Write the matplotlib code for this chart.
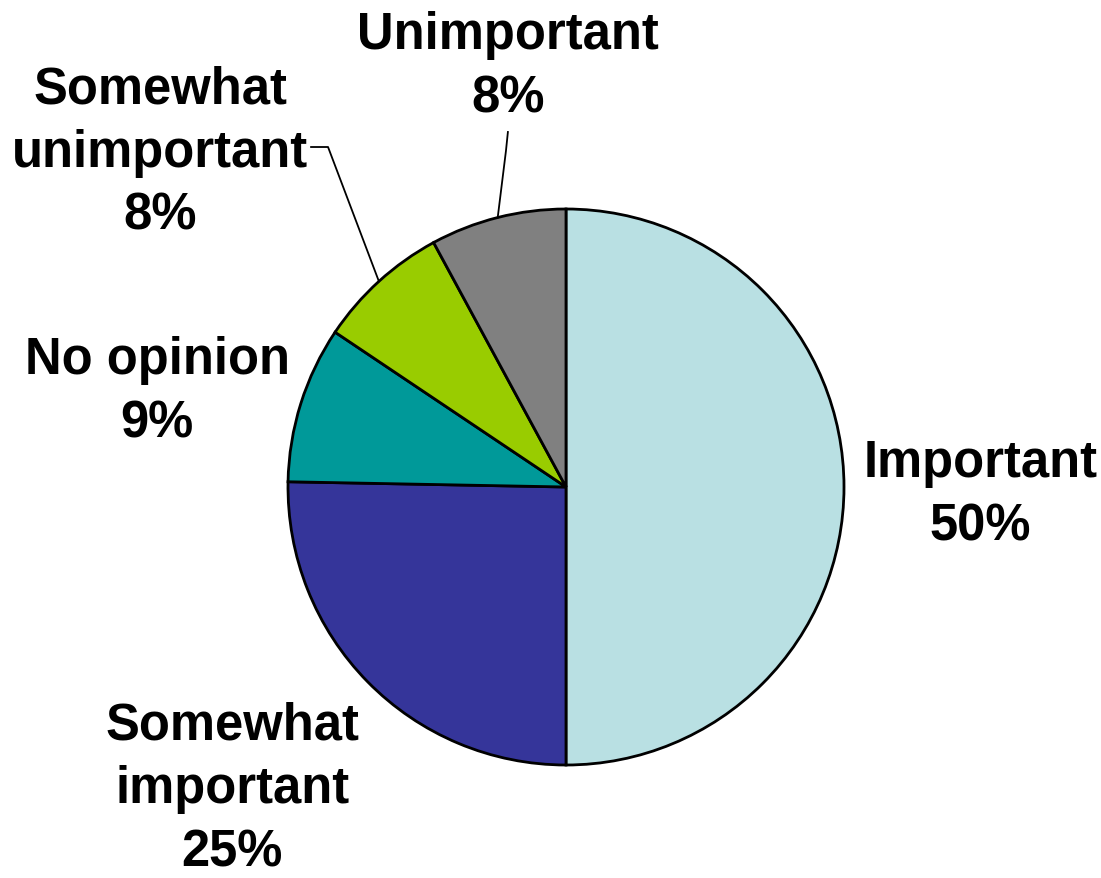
import numpy as np
import matplotlib
matplotlib.use("Agg")
import matplotlib.pyplot as plt

plt.rcParams['font.family'] = ['Liberation Sans', 'DejaVu Sans']

labels = ["Important", "Somewhat\nimportant", "No opinion", "Somewhat\nunimportant", "Unimportant"]
values = [50.0, 25.3, 9.1, 7.7, 7.9]
pct_text = ["50%", "25%", "9%", "8%", "8%"]
colors = ["#B9E0E3", "#35359A", "#009999", "#99CC00", "#808080"]

# label centres in pie-radius units (centre of pie = 0,0)
label_pos = [(1.49, -0.025), (-1.20, -1.085), (-1.47, 0.345), (-1.46, 1.205), (-0.209, 1.515)]

fig = plt.figure(figsize=(11.01, 8.79), dpi=100)
ax = fig.add_axes([288/1101, 113/879, 556/1101, 556/879])
wedges, _ = ax.pie(values, colors=colors, startangle=90, counterclock=False,
                   wedgeprops=dict(edgecolor="black", linewidth=2.0))
ax.set_xlim(-1, 1)
ax.set_ylim(-1, 1)
ax.set_aspect('auto')
ax.axis('off')

for lab, pct, (x, y) in zip(labels, pct_text, label_pos):
    ax.text(x, y, lab + "\n" + pct, ha='center', va='center', fontsize=36.5,
            fontweight='bold', linespacing=1.38, clip_on=False)

# leader lines to the two small wedges
def mid_edge(w):
    a = np.deg2rad((w.theta1 + w.theta2) / 2)
    return np.cos(a), np.sin(a)

ex, ey = mid_edge(wedges[3])
ax.plot([-0.917, -0.856, ex], [1.223, 1.223, ey], color='black', lw=1.3, clip_on=False)
ex, ey = mid_edge(wedges[4])
ax.plot([-0.209, -0.216, ex], [1.277, 1.209, ey], color='black', lw=1.3, clip_on=False)

fig.savefig("out.png", dpi=100)
